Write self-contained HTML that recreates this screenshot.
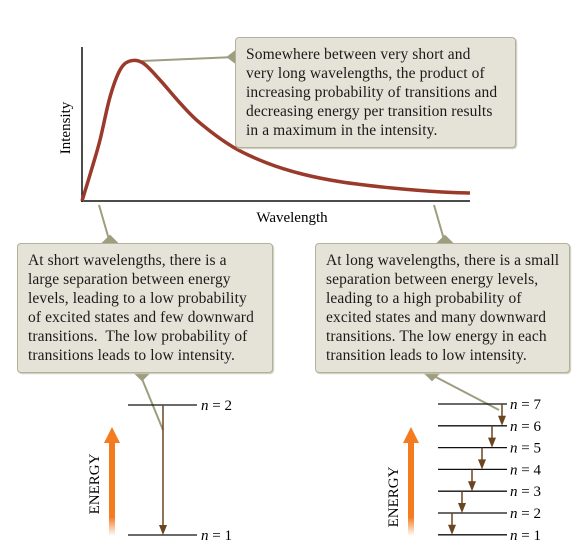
<!DOCTYPE html>
<html><head><meta charset="utf-8"><style>
body{margin:0;background:#fff;width:577px;height:556px;overflow:hidden;font-family:"Liberation Serif",serif;}
.box{position:absolute;background:#e5e3d7;border:1.5px solid #b3b298;border-radius:4px;box-shadow:1px 1px 1px #c9c8b8;color:#1a1a1a;font-size:15.5px;line-height:19px;padding:7px 10px;box-sizing:border-box;white-space:nowrap;letter-spacing:0.1px;}
</style></head><body>
<svg width="577" height="556" style="position:absolute;left:0;top:0">
 <g id="pointers" stroke="#9e9d80" stroke-width="2" fill="#9e9d80">
  <line x1="142" y1="61" x2="235" y2="57"/>
  <polygon points="228,57 237,50 237,64"/>
  <line x1="99" y1="205" x2="110" y2="243"/>
  <polygon points="101,245 110,236 119,245"/>
  <line x1="140" y1="374" x2="163" y2="430"/>
  <polygon points="134,372 142,380 150,372"/>
  <line x1="434" y1="205" x2="445" y2="243"/>
  <polygon points="436,245 445,236 454,245"/>
  <line x1="430" y1="374" x2="499" y2="410"/>
  <polygon points="424,372 432,380 440,372"/>
 </g>
 <g stroke="#111" stroke-width="1.5">
  <line x1="82" y1="47" x2="82" y2="202"/>
  <line x1="81" y1="201" x2="470" y2="201"/>
 </g>
 <path id="curve" fill="none" stroke="#9a3a2a" stroke-width="3.5"/>
 <text x="292" y="222" font-size="15" text-anchor="middle">Wavelength</text>
 <text transform="translate(70,128) rotate(-90)" font-size="15" text-anchor="middle">Intensity</text>
 <defs>
  <linearGradient id="og" x1="0" y1="1" x2="0" y2="0"><stop offset="0" stop-color="#f47b20" stop-opacity="0"/><stop offset="0.2" stop-color="#f47b20"/><stop offset="1" stop-color="#f47b20"/></linearGradient>
 </defs>
 <g>
  <rect x="109" y="441" width="6" height="95" fill="url(#og)"/>
  <polygon points="104,443 112,427 120,443" fill="#f47b20"/>
  <text transform="translate(99,484) rotate(-90)" font-size="15" text-anchor="middle">ENERGY</text>
  <g id="leftLevels"></g>
 </g>
 <g>
  <rect x="408" y="441" width="6" height="95" fill="url(#og)"/>
  <polygon points="403,443 411,427 419,443" fill="#f47b20"/>
  <text transform="translate(398,497) rotate(-90)" font-size="15" text-anchor="middle">ENERGY</text>
  <g id="rightLevels"></g>
 </g>
</svg>
<div class="box" style="left:235px;top:37px;width:281px;height:111px;">Somewhere between very short and<br>very long wavelengths, the product of<br>increasing probability of transitions and<br>decreasing energy per transition results<br>in a maximum in the intensity.</div>
<div class="box" style="left:17px;top:243px;width:256px;height:130px;">At short wavelengths, there is a<br>large separation between energy<br>levels, leading to a low probability<br>of excited states and few downward<br>transitions.&nbsp; The low probability of<br>transitions leads to low intensity.</div>
<div class="box" style="left:315px;top:243px;width:255px;height:130px;">At long wavelengths, there is a small<br>separation between energy levels,<br>leading to a high probability of<br>excited states and many downward<br>transitions. The low energy in each<br>transition leads to low intensity.</div>
<script>
const wavelength=[0,10,18,28,38,48,61,78,98,118,151,185,220,260,310,360,388];
const intensity=[0,33,61,104,131,140,138,121,98,78,54,38,27,19,13,9,8];
const leftLevels=[2,1];
const rightLevels=[7,6,5,4,3,2,1];
const NS="http://www.w3.org/2000/svg";
const xS=w=>82+w, yS=v=>201-v;
const pts=wavelength.map((w,i)=>[xS(w),yS(intensity[i])]);
let d="M"+pts[0][0]+","+pts[0][1];
for(let i=0;i<pts.length-1;i++){const p0=pts[Math.max(0,i-1)],p1=pts[i],p2=pts[i+1],p3=pts[Math.min(pts.length-1,i+2)];
d+=` C${p1[0]+(p2[0]-p0[0])/6},${p1[1]+(p2[1]-p0[1])/6} ${p2[0]-(p3[0]-p1[0])/6},${p2[1]-(p3[1]-p1[1])/6} ${p2[0]},${p2[1]}`;}
document.getElementById('curve').setAttribute('d',d);
function mk(tag,attrs,parent){const e=document.createElementNS(NS,tag);for(const k in attrs)e.setAttribute(k,attrs[k]);parent.appendChild(e);return e;}
function arrow(g,x,y1,y2){mk('line',{x1:x,y1:y1,x2:x,y2:y2-8,stroke:'#6b4420','stroke-width':1.5},g);mk('polygon',{points:`${x-4},${y2-10} ${x+4},${y2-10} ${x},${y2}`,fill:'#6b4420'},g);}
function label(g,x,y,n){const t=mk('text',{x:x,y:y+5,'font-size':15},g);t.innerHTML='<tspan font-style="italic">n</tspan> = '+n;return t;}
const lg=document.getElementById('leftLevels');
const ly=n=>405+(2-n)*130;
leftLevels.forEach(n=>{const l=mk('line',{x1:128,x2:197,y1:ly(n),y2:ly(n),stroke:'#111','stroke-width':1.3},lg);


label(lg,201,ly(n),n);});
arrow(lg,163,ly(2),ly(1));
const rg=document.getElementById('rightLevels');
const ry=n=>404+(7-n)*21.8;
rightLevels.forEach((n,i)=>{const l=mk('line',{x1:438,x2:507,y1:ry(n),y2:ry(n),stroke:'#111','stroke-width':1.3},rg);


label(rg,510,ry(n),n);
if(n>1)arrow(rg,502-i*10,ry(n),ry(n-1));});
</script>
</body></html>
